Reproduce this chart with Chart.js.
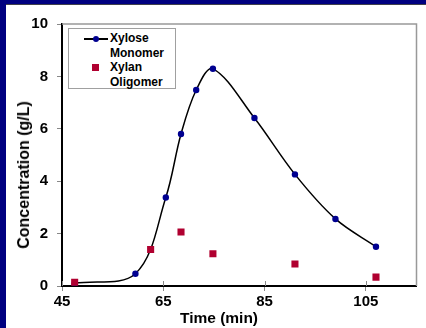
<!DOCTYPE html>
<html>
<head>
<meta charset="utf-8">
<script src="https://cdn.jsdelivr.net/npm/chart.js@4.4.1/dist/chart.umd.min.js"></script>
<style>
  html, body { margin: 0; padding: 0; background: #fff; }
  body {
    width: 426px; height: 328px; position: relative; overflow: hidden;
    font-family: "Liberation Sans", Arial, sans-serif;
  }
  #bandTop { position: absolute; left: 0; top: 0; width: 426px; height: 4px; background: #000080; border-bottom: 1px solid #40404a; }
  #bandLeft { position: absolute; left: 0; top: 0; width: 6px; height: 328px; background: #000080; }
  #chart { position: absolute; left: 0; top: 0; }
  .title { position: absolute; font-weight: bold; color: #000; white-space: nowrap; }
  #ytitle { left: 24px; top: 175px; font-size: 16px; transform: translate(-50%, -50%) rotate(-90deg); }
  #xtitle { left: 219px; top: 318px; font-size: 15.5px; transform: translate(-50%, -50%); }
  #legend {
    position: absolute; left: 68px; top: 28px; width: 106px; height: 59px;
    background: #fff; border: 1px solid #a0a0a0;
    font-size: 12px; color: #000; line-height: 14.5px;
  }
  .item { position: relative; padding-left: 41px; font-weight: bold; }
  .item:first-child { margin-top: 2px; }
  .sym { position: absolute; top: 0; height: 14.5px; }
  .line { left: 15px; width: 24px; }
  .line::before { content: ""; position: absolute; left: 0; right: 0; top: 7px; height: 1.5px; background: #000; }
  .line::after { content: ""; position: absolute; left: 9px; top: 4.7px; width: 6px; height: 6px; border-radius: 50%; background: #000090; }
  .square { left: 23px; top: 3.6px; width: 7px; height: 7px; background: #b00030; }
</style>
</head>
<body>
<div id="bandTop"></div>
<div id="bandLeft"></div>
<canvas id="chart" width="426" height="328"></canvas>
<div id="legend"></div>
<div class="title" id="ytitle">Concentration (g/L)</div>
<div class="title" id="xtitle">Time (min)</div>
<script>
// Xylose monomer (smoothed line with dots)
const monomerTime = [47.5, 59.5, 65.5, 68.5, 71.5, 74.8, 83, 91, 99, 107];
const monomerConc = [0.1, 0.47, 3.38, 5.8, 7.48, 8.29, 6.41, 4.26, 2.56, 1.5];

// Xylan oligomer (squares only)
const oligomerTime = [47.5, 62.5, 68.5, 74.8, 91, 107];
const oligomerConc = [0.14, 1.39, 2.06, 1.23, 0.84, 0.34];

const seriesLabels = ['Xylose\nMonomer', 'Xylan\nOligomer'];
const xTicks = [45, 65, 85, 105];
const yTicks = [0, 2, 4, 6, 8, 10];

const toPoints = (xs, ys) => xs.map((x, i) => ({ x: x, y: ys[i] }));

// legend (html)
const legend = document.getElementById('legend');
seriesLabels.forEach((label, i) => {
    const item = document.createElement('div');
    item.className = 'item';
    item.innerHTML = `<span class="sym ${i === 0 ? 'line' : 'square'}"></span>` + label.replace('\n', '<br>');
    legend.appendChild(item);
});

// gray frame on top/right + x ticks that cross the axis
const framePlugin = {
    id: 'frame',
    beforeDatasetsDraw(chart) {
        const { ctx, chartArea: a } = chart;
        ctx.save();
        ctx.strokeStyle = '#999';
        ctx.lineWidth = 1.5;
        ctx.beginPath();
        ctx.moveTo(a.left, a.top);
        ctx.lineTo(a.right, a.top);
        ctx.lineTo(a.right, a.bottom);
        ctx.stroke();
        const xs = chart.scales.x;
        ctx.strokeStyle = '#888';
        ctx.lineWidth = 1;
        xTicks.forEach(v => {
            const px = Math.round(xs.getPixelForValue(v)) + 0.5;
            ctx.beginPath();
            ctx.moveTo(px, a.bottom - 5);
            ctx.lineTo(px, a.bottom);
            ctx.stroke();
        });
        ctx.restore();
    }
};

const tickFont = { family: '"Liberation Sans", Arial, sans-serif', size: 15, weight: 'bold' };

new Chart(document.getElementById('chart'), {
    type: 'scatter',
    data: {
        datasets: [
            {
                label: seriesLabels[1],
                data: toPoints(oligomerTime, oligomerConc),
                showLine: false,
                pointStyle: 'rect',
                pointRadius: 5,
                pointBackgroundColor: '#b00030',
                pointBorderWidth: 0
            },
            {
                label: seriesLabels[0],
                data: toPoints(monomerTime, monomerConc),
                showLine: true,
                borderColor: '#000',
                borderWidth: 1.5,
                tension: 0.35,
                pointRadius: 3.2,
                pointBackgroundColor: '#000090',
                pointBorderWidth: 0
            }
        ]
    },
    options: {
        responsive: false,
        animation: false,
        layout: { padding: { top: 24, right: 9.5, left: 0, bottom: 0 } },
        plugins: { legend: { display: false }, tooltip: { enabled: false } },
        scales: {
            x: {
                type: 'linear',
                min: 45,
                max: 115,
                afterBuildTicks: scale => { scale.ticks = xTicks.map(v => ({ value: v })); },
                afterFit: scale => { scale.height = 42; },
                ticks: { font: tickFont, color: '#000', padding: 2, maxRotation: 0 },
                grid: { drawOnChartArea: false, color: '#888', tickLength: 5 },
                border: { color: '#000', width: 2 }
            },
            y: {
                min: 0,
                max: 10,
                afterBuildTicks: scale => { scale.ticks = yTicks.map(v => ({ value: v })); },
                afterFit: scale => { scale.width = 62; },
                ticks: { font: tickFont, color: '#000', padding: 9 },
                grid: { drawOnChartArea: false, color: '#888', tickLength: 5 },
                border: { color: '#000', width: 2 }
            }
        }
    },
    plugins: [framePlugin]
});
</script>
</body>
</html>
